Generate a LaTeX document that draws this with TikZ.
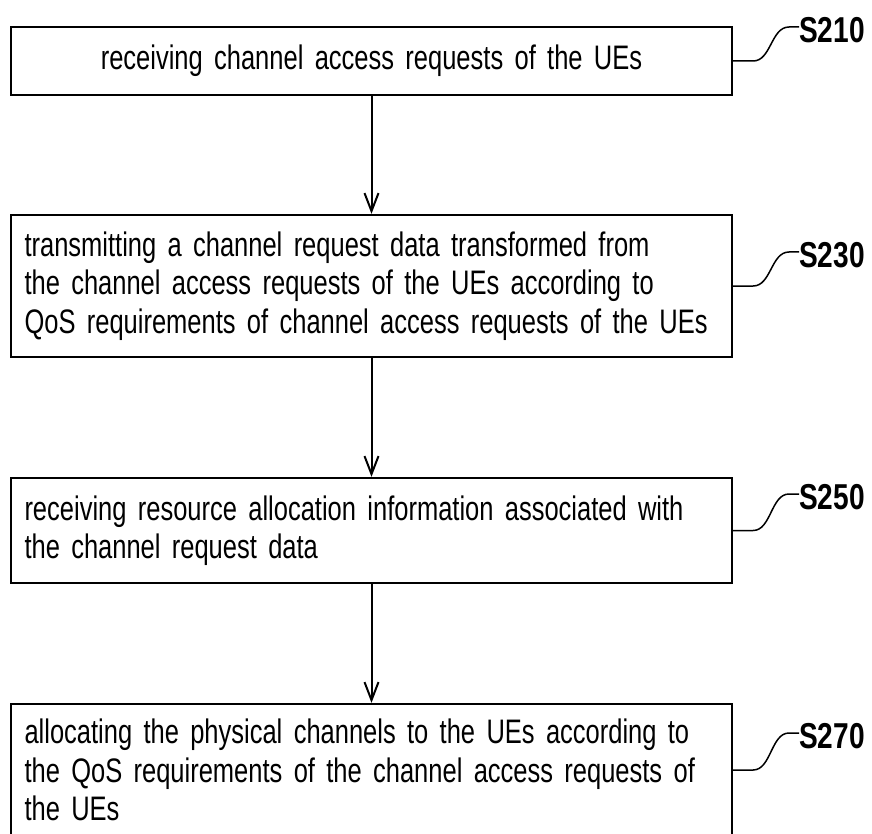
\documentclass[tikz,border=0pt]{standalone}
\usepackage{fontspec}
\setmainfont{Liberation Sans}[FakeStretch=0.75]
\newfontfamily\labelfont{Liberation Sans}[FakeStretch=0.78]
\usetikzlibrary{arrows.meta}
\tikzset{
  stepbox/.style={draw, line width=2.3pt, text width=694pt, inner xsep=13.5pt, inner ysep=0pt, align=left, font=\fontsize{34}{38.5}\selectfont},
  steplabel/.style={anchor=west, inner sep=0pt, font=\labelfont\bfseries\fontsize{36}{36}\selectfont},
  flow/.style={line width=2pt, -{Straight Barb[length=18pt,width=14pt]}},
  leader/.style={line width=1.5pt}
}
\begin{document}
\begin{tikzpicture}[x=1pt,y=-1pt]
\useasboundingbox (0,0) rectangle (872,834);
\node[stepbox, align=center, minimum height=68pt] (s210) at (371.5,61) {receiving channel access requests of the UEs};
\node[stepbox, minimum height=142pt] (s230) at (371.5,286) {transmitting a channel request data transformed from\\the channel access requests of the UEs according to\\QoS requirements of channel access requests of the UEs};
\node[stepbox, minimum height=105pt] (s250) at (371.5,530.5) {receiving resource allocation information associated with\\the channel request data};
\node[stepbox, minimum height=132pt] (s270) at (371.5,770) {allocating the physical channels to the UEs according to\\the QoS requirements of the channel access requests of\\the UEs};
\node[steplabel] (l210) at (799,30) {S210};
\node[steplabel] (l230) at (799,255) {S230};
\node[steplabel] (l250) at (799,497) {S250};
\node[steplabel] (l270) at (799,736) {S270};
\draw[flow] (s210) -- (s230);
\draw[flow] (s230) -- (s250);
\draw[flow] (s250) -- (s270);
\draw[leader] (s210.east) -- ++(20,0) .. controls +(18,0) and +(-18,0) .. ([shift={(-10pt,3pt)}]l210.west) -- ([yshift=3pt]l210.west);
\draw[leader] (s230.east) -- ++(20,0) .. controls +(18,0) and +(-18,0) .. ([shift={(-10pt,3pt)}]l230.west) -- ([yshift=3pt]l230.west);
\draw[leader] (s250.east) -- ++(20,0) .. controls +(18,0) and +(-18,0) .. ([shift={(-10pt,3pt)}]l250.west) -- ([yshift=3pt]l250.west);
\draw[leader] (s270.east) -- ++(20,0) .. controls +(18,0) and +(-18,0) .. ([shift={(-10pt,3pt)}]l270.west) -- ([yshift=3pt]l270.west);
\end{tikzpicture}
\end{document}
